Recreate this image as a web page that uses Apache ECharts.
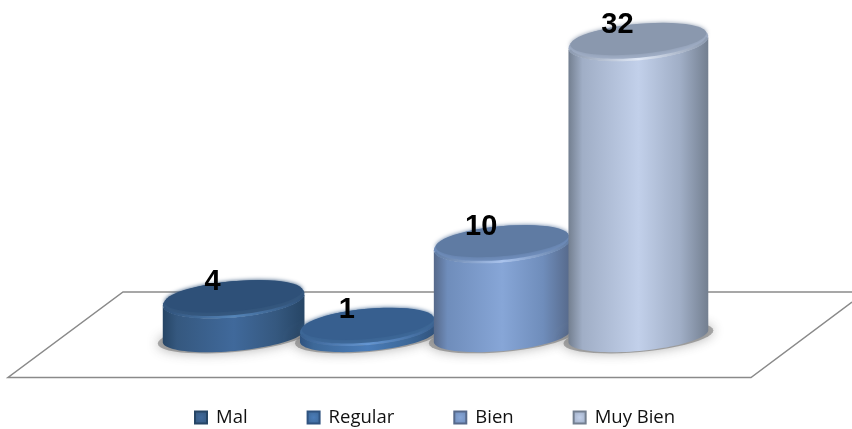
<!DOCTYPE html>
<html>
<head>
<meta charset="utf-8">
<style>
  html, body { margin: 0; padding: 0; background: #ffffff; }
  #chart { width: 852px; height: 429px; filter: blur(0.45px); }
</style>
</head>
<body>
<div id="chart"></div>
<script src="https://cdn.jsdelivr.net/npm/echarts@6/dist/echarts.min.js"></script>
<script>
var categories = ["Mal", "Regular", "Bien", "Muy Bien"];
var values = [4, 1, 10, 32];

// tones of each cylinder
var tones = [
  { top: "#2e5078", light: "#40699b", mid: "#35587f", dark: "#264565", rim: "#5484b8" },
  { top: "#375f8f", light: "#4a7cb8", mid: "#3d6898", dark: "#2f5380", rim: "#6596d2" },
  { top: "#5f7ba3", light: "#87a6d7", mid: "#6f8dbb", dark: "#56698a", rim: "#aac4ee" },
  { top: "#8a98ae", light: "#c2d0ea", mid: "#a0aec6", dark: "#737f90", rim: "#e2eaf8" }
];
// the perspective makes each cylinder a bit different: half width / band, shift in px
var radius = [0.526, 0.504, 0.507, 0.519];
var shift = [1, 0, -1, 0];

var CAP_RY = 18, BASE_RY = 15, TILT = -0.09;

// outline of a slightly tilted ellipse, from angle a0 to a1
function arc(cx, cy, rx, ry, a0, a1) {
  var pts = [];
  for (var i = 0; i <= 48; i++) {
    var a = a0 + (a1 - a0) * i / 48;
    var x = rx * Math.cos(a), y = ry * Math.sin(a);
    pts.push([
      cx + x * Math.cos(TILT) - y * Math.sin(TILT),
      cy + x * Math.sin(TILT) + y * Math.cos(TILT)
    ]);
  }
  return pts;
}

function cylinder(idx) {
  return function (params, api) {
    var t = tones[idx];
    var top = api.coord([api.value(0), api.value(1)]);
    var base = api.coord([api.value(0), 0]);
    var rx = api.size([1, 0])[0] * radius[idx];
    var cx = top[0] + shift[idx];
    var body = arc(cx, top[1], rx, CAP_RY, Math.PI, 0)
      .concat(arc(cx, base[1], rx, BASE_RY, 0, Math.PI));
    var side = new echarts.graphic.LinearGradient(0, 0, 1, 0, [
      { offset: 0, color: t.dark },
      { offset: 0.1, color: t.mid },
      { offset: 0.5, color: t.light },
      { offset: 0.8, color: t.mid },
      { offset: 1, color: t.dark }
    ]);
    var rimStroke = new echarts.graphic.LinearGradient(0, 0, 1, 0, [
      { offset: 0, color: t.top },
      { offset: 0.5, color: t.rim },
      { offset: 1, color: t.top }
    ]);
    return {
      type: "group",
      children: [
        // soft shadow on the floor
        {
          type: "polygon",
          shape: { points: arc(cx, base[1] + 1, rx + 5, BASE_RY, 0, Math.PI * 2) },
          style: { fill: "rgba(110,110,110,0.55)", shadowBlur: 12, shadowColor: "rgba(60,60,60,0.7)" }
        },
        { type: "polygon", shape: { points: body }, style: { fill: side } },
        {
          type: "polygon",
          shape: { points: arc(cx, top[1], rx, CAP_RY, 0, Math.PI * 2) },
          style: { fill: t.mid }
        },
        {
          type: "polyline",
          shape: { points: arc(cx, top[1], rx - 1, CAP_RY - 1, 0.1, Math.PI - 0.1) },
          style: { fill: null, stroke: rimStroke, lineWidth: 2.5 }
        },
        {
          type: "polygon",
          shape: { points: arc(cx, top[1] - 3, rx - 2, CAP_RY - 3, 0, Math.PI * 2) },
          style: { fill: t.top, shadowBlur: 4, shadowColor: t.top }
        },
        {
          type: "text",
          x: cx - 21,
          y: top[1] - 17,
          style: {
            text: String(api.value(1)),
            fill: "#000",
            font: "bold 29px 'Liberation Sans', sans-serif",
            align: "center",
            verticalAlign: "middle"
          }
        }
      ]
    };
  };
}

var chart = echarts.init(document.getElementById("chart"), null, { renderer: "canvas" });

chart.setOption({
  animation: false,
  backgroundColor: "#ffffff",
  grid: { left: 165, right: 146, top: 42, bottom: 93 },
  xAxis: { type: "category", data: categories, show: false },
  yAxis: { type: "value", min: 0, max: 32, show: false },
  legend: {
    left: 189,
    top: 403,
    itemWidth: 12,
    itemHeight: 12,
    itemGap: 59,
    icon: "rect",
    data: categories,
    textStyle: {
      fontFamily: "'Open Sans', sans-serif",
      fontSize: 18.5,
      color: "#111",
      padding: [0, 0, 0, 4]
    }
  },
  // floor of the 3D plot
  graphic: [
    {
      type: "polyline",
      silent: true,
      z: 0,
      shape: { points: [[852, 292], [123, 292], [8, 377.5], [751, 377.5], [852, 302]] },
      style: { fill: null, stroke: "#8a8a8a", lineWidth: 1.5 }
    }
  ],
  series: categories.map(function (name, i) {
    return {
      name: name,
      type: "custom",
      coordinateSystem: "cartesian2d",
      renderItem: cylinder(i),
      itemStyle: {
        color: new echarts.graphic.RadialGradient(0.5, 0.5, 0.6, [
          { offset: 0, color: tones[i].light },
          { offset: 1, color: tones[i].mid }
        ]),
        borderColor: tones[i].dark,
        borderWidth: 1.5
      },
      data: [[i, values[i]]],
      clip: false,
      z: 2 + i
    };
  })
});
</script>
</body>
</html>
